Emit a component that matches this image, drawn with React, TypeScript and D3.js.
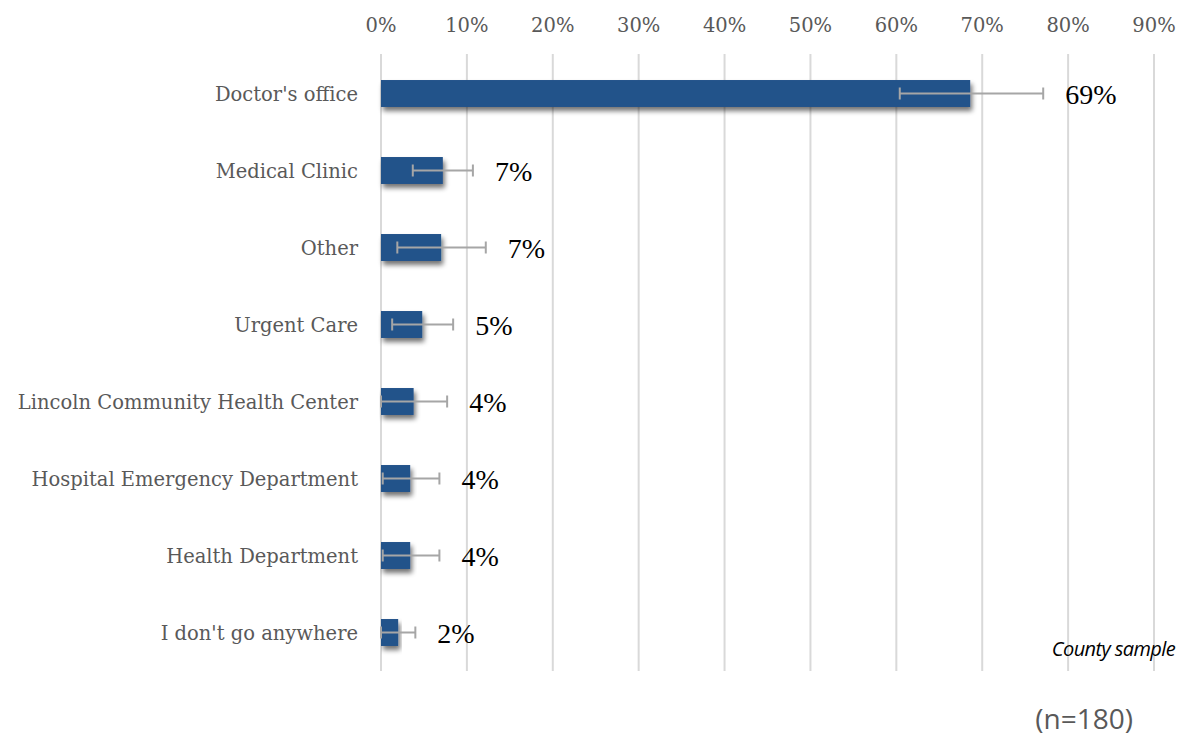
import React, { useEffect } from "react";
import * as d3 from "d3";

const categories = [
  "Doctor's office",
  "Medical Clinic",
  "Other",
  "Urgent Care",
  "Lincoln Community Health Center",
  "Hospital Emergency Department",
  "Health Department",
  "I don't go anywhere",
];
const values = [68.6, 7.2, 7.0, 4.8, 3.8, 3.4, 3.4, 2.0];
const valueLabels = ["69%", "7%", "7%", "5%", "4%", "4%", "4%", "2%"];
const errLow = [60.4, 3.7, 1.9, 1.3, 0, 0.2, 0.2, 0];
const errHigh = [77.1, 10.7, 12.2, 8.4, 7.7, 6.8, 6.8, 4.0];
const xTicks = [0, 10, 20, 30, 40, 50, 60, 70, 80, 90];

const W = 1177;
const H = 737;
const serif = "'DejaVu Serif', 'Liberation Serif', serif";
const serif2 = "'Liberation Serif', 'DejaVu Serif', serif";
const sans = "'Open Sans', 'Liberation Sans', sans-serif";

export default function App() {
  useEffect(() => {
    document.body.style.margin = "0";
  }, []);

  const x = d3.scaleLinear().domain([0, 90]).range([381, 1154]);
  const y = d3
    .scaleBand<string>()
    .domain(categories)
    .range([55, 671])
    .paddingInner(0.65)
    .paddingOuter(0.325);
  const bw = y.bandwidth();

  return (
    <svg width={W} height={H} style={{ display: "block", background: "#fff" }}>
      <defs>
        <filter id="shadow" x="-10%" y="-30%" width="130%" height="190%">
          <feGaussianBlur in="SourceAlpha" stdDeviation="2.5" />
          <feOffset dx="2" dy="4" result="b" />
          <feComponentTransfer>
            <feFuncA type="linear" slope="0.55" />
          </feComponentTransfer>
          <feMerge>
            <feMergeNode />
            <feMergeNode in="SourceGraphic" />
          </feMerge>
        </filter>
      </defs>
      {xTicks.map((t) => (
        <g key={t}>
          <line
            x1={x(t)}
            x2={x(t)}
            y1={54}
            y2={671}
            stroke="#d9d9d9"
            strokeWidth={2}
          />
          <text
            x={x(t)}
            y={32}
            textAnchor="middle"
            fontFamily={serif}
            fontSize={19.5}
            fill="#595959"
          >
            {`${t}%`}
          </text>
        </g>
      ))}
      {categories.map((c, i) => {
        const yc = (y(c) as number) + bw / 2;
        return (
          <g key={c}>
            <text
              x={358}
              y={yc + 7}
              textAnchor="end"
              fontFamily={serif}
              fontSize={19.5}
              fill="#595959"
            >
              {c}
            </text>
            <rect
              x={x(0)}
              y={y(c)}
              width={x(values[i]) - x(0)}
              height={bw}
              fill="#23528a"
              filter="url(#shadow)"
            />
            <line
              x1={x(errLow[i])}
              x2={x(errHigh[i])}
              y1={yc}
              y2={yc}
              stroke="#a6a6a6"
              strokeWidth={2}
            />
            <line
              x1={x(errLow[i])}
              x2={x(errLow[i])}
              y1={yc - 6}
              y2={yc + 6}
              stroke="#a6a6a6"
              strokeWidth={2}
            />
            <line
              x1={x(errHigh[i])}
              x2={x(errHigh[i])}
              y1={yc - 6}
              y2={yc + 6}
              stroke="#a6a6a6"
              strokeWidth={2}
            />
            <text
              x={x(errHigh[i]) + 22}
              y={yc + 10}
              fontFamily={serif2}
              fontSize={28}
              fill="#000"
            >
              {valueLabels[i]}
            </text>
          </g>
        );
      })}
      <text
        x={1175}
        y={656}
        textAnchor="end"
        fontFamily={sans}
        fontStyle="italic"
        fontSize={20}
        fill="#000"
        letterSpacing={-0.6}
      >
        County sample
      </text>
      <text
        x={1133}
        y={729}
        textAnchor="end"
        fontFamily={sans}
        fontSize={28}
        fill="#595959"
      >
        (n=180)
      </text>
    </svg>
  );
}
